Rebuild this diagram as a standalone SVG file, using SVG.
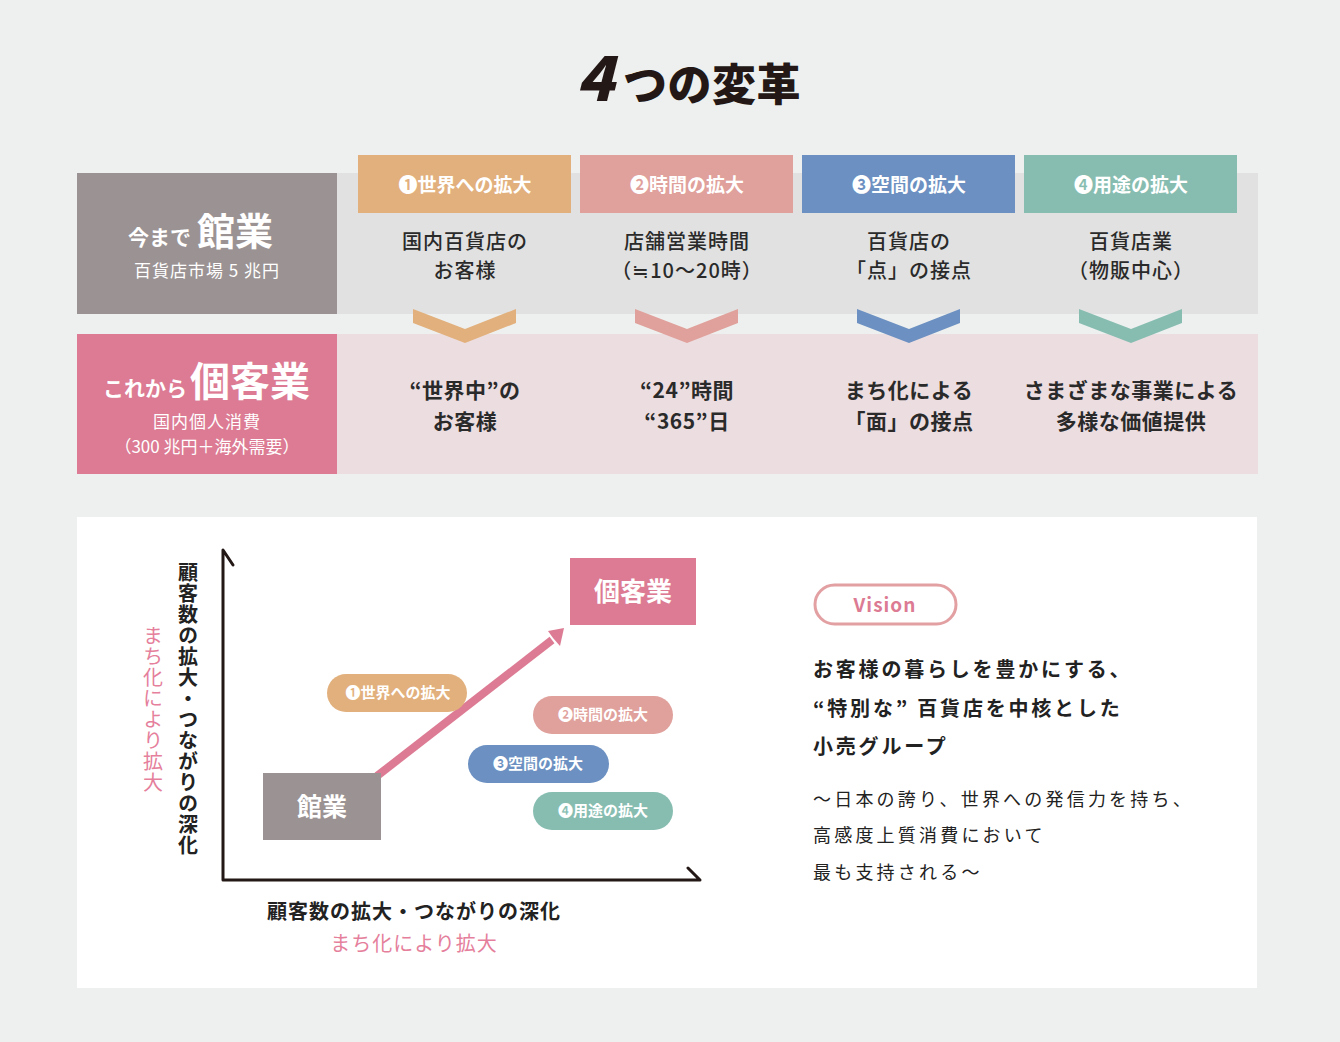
<svg xmlns="http://www.w3.org/2000/svg" width="1340" height="1042" viewBox="0 0 1340 1042">
<defs>
<style>
text{font-family:"Noto Sans CJK JP","Noto Sans",sans-serif;}
.dark{fill:#222;}
.w{fill:#fff;}
.tab{font-size:19px;font-weight:700;fill:#fff;text-anchor:middle;}
.row1{font-size:20px;font-weight:500;fill:#2a2a2a;text-anchor:middle;letter-spacing:1px;}
.row2{font-size:21px;font-weight:700;fill:#2a2a2a;text-anchor:middle;letter-spacing:0.5px;}
.pill{font-size:15px;font-weight:700;fill:#fff;text-anchor:middle;}
.axis{fill:none;stroke:#231815;stroke-width:3;stroke-linecap:round;stroke-linejoin:round;}
.orange{fill:#e2b07c;}
.rose{fill:#e0a09b;}
.blue{fill:#6b90c1;}
.teal{fill:#87bdb1;}
.pink{fill:#dc7b93;}
</style>
</defs>
<rect x="0" y="0" width="1340" height="1042" fill="#eef0ef"/>

<g id="title">
<text x="576" y="101" font-size="62" font-weight="900" font-style="italic" fill="#231815" font-family="'Liberation Sans',sans-serif">4</text>
<text x="623" y="101" font-size="44" font-weight="900" fill="#231815" letter-spacing="0.5">つの変革</text>
</g>

<g id="row-now">
<rect x="337" y="173" width="921" height="141" fill="#e1e1e1"/>
<rect x="77" y="173" width="260" height="141" fill="#9b9393"/>
<text x="128" y="245" font-size="21" font-weight="700" class="w">今まで</text>
<text x="197" y="245" font-size="38" font-weight="700" class="w">館業</text>
<text x="207" y="277" font-size="17" class="w" text-anchor="middle" letter-spacing="1">百貨店市場 5 兆円</text>
</g>

<g id="row-future">
<rect x="337" y="334" width="921" height="140" fill="#ecdde0"/>
<rect x="77" y="334" width="260" height="140" fill="#dc7b93"/>
<text x="103" y="396" font-size="21" font-weight="700" class="w">これから</text>
<text x="190" y="396" font-size="40" font-weight="700" class="w">個客業</text>
<text x="207" y="428" font-size="17" class="w" text-anchor="middle" letter-spacing="1">国内個人消費</text>
<text x="207" y="453" font-size="17" class="w" text-anchor="middle">（300 兆円＋海外需要）</text>
</g>

<g id="col1">
<rect x="358" y="155" width="213" height="58" class="orange"/>
<text x="465" y="192" class="tab">❶世界への拡大</text>
<text x="465" y="249" class="row1">国内百貨店の</text>
<text x="465" y="278" class="row1">お客様</text>
<polygon points="413,309 465,329 516,309 516,323 465,343 413,323" class="orange"/>
<text x="465" y="398" class="row2">“世界中”の</text>
<text x="465" y="429" class="row2">お客様</text>
</g>

<g id="col2">
<rect x="580" y="155" width="213" height="58" class="rose"/>
<text x="687" y="192" class="tab">❷時間の拡大</text>
<text x="687" y="249" class="row1">店舗営業時間</text>
<text x="687" y="278" class="row1" letter-spacing="0">（≒10～20時）</text>
<polygon points="635,309 687,329 738,309 738,323 687,343 635,323" class="rose"/>
<text x="687" y="398" class="row2">“24”時間</text>
<text x="687" y="429" class="row2">“365”日</text>
</g>

<g id="col3">
<rect x="802" y="155" width="213" height="58" class="blue"/>
<text x="909" y="192" class="tab">❸空間の拡大</text>
<text x="909" y="249" class="row1">百貨店の</text>
<text x="909" y="278" class="row1" letter-spacing="0">「点」の接点</text>
<polygon points="857,309 909,329 960,309 960,323 909,343 857,323" class="blue"/>
<text x="909" y="398" class="row2">まち化による</text>
<text x="909" y="429" class="row2" letter-spacing="0">「面」の接点</text>
</g>

<g id="col4">
<rect x="1024" y="155" width="213" height="58" class="teal"/>
<text x="1131" y="192" class="tab">❹用途の拡大</text>
<text x="1131" y="249" class="row1">百貨店業</text>
<text x="1131" y="278" class="row1">（物販中心）</text>
<polygon points="1079,309 1131,329 1182,309 1182,323 1131,343 1079,323" class="teal"/>
<text x="1131" y="398" class="row2">さまざまな事業による</text>
<text x="1131" y="429" class="row2">多様な価値提供</text>
</g>

<rect x="77" y="517" width="1180" height="471" fill="#ffffff"/>

<g id="connectors">
<polyline points="233,565 223,550 223,880 700,880 688,868" class="axis"/>
<line x1="377" y1="776" x2="552" y2="640" stroke="#dc7b93" stroke-width="8"/>
<polygon points="564,628 548,631 553,638 560,646" fill="#dc7b93"/>
</g>

<g id="y-labels">
<text x="188" y="562" font-size="20" font-weight="700" class="dark" writing-mode="vertical-rl" letter-spacing="1">顧客数の拡大・つながりの深化</text>
<text x="153" y="625" font-size="20" fill="#e57f9c" writing-mode="vertical-rl" letter-spacing="1">まち化により拡大</text>
</g>

<g id="x-labels">
<text x="414" y="919" font-size="20" font-weight="700" class="dark" text-anchor="middle" letter-spacing="1">顧客数の拡大・つながりの深化</text>
<text x="414" y="951" font-size="20" fill="#e57f9c" text-anchor="middle" letter-spacing="1">まち化により拡大</text>
</g>

<g id="node-kangyo">
<rect x="263" y="773" width="118" height="67" fill="#9b9393"/>
<text x="322" y="816" font-size="25" font-weight="700" class="w" text-anchor="middle">館業</text>
</g>

<g id="node-kokyakugyo">
<rect x="570" y="558" width="126" height="67" class="pink"/>
<text x="633" y="601" font-size="26" font-weight="700" class="w" text-anchor="middle">個客業</text>
</g>

<g id="pill1">
<rect x="327" y="674" width="140" height="38" rx="19" class="orange"/>
<text x="398" y="698" class="pill">❶世界への拡大</text>
</g>
<g id="pill2">
<rect x="533" y="696" width="140" height="38" rx="19" class="rose"/>
<text x="603" y="720" class="pill">❷時間の拡大</text>
</g>
<g id="pill3">
<rect x="468" y="745" width="141" height="38" rx="19" class="blue"/>
<text x="538" y="769" class="pill">❸空間の拡大</text>
</g>
<g id="pill4">
<rect x="533" y="792" width="140" height="38" rx="19" class="teal"/>
<text x="603" y="816" class="pill">❹用途の拡大</text>
</g>

<g id="vision">
<rect x="815" y="585" width="141" height="39" rx="19.5" fill="#fff" stroke="#e3a0a3" stroke-width="3"/>
<text x="885" y="612" font-size="19" font-weight="700" fill="#dc7b93" text-anchor="middle" letter-spacing="1">Vision</text>
<text x="813" y="677" font-size="20" font-weight="700" class="dark" letter-spacing="2.8">お客様の暮らしを豊かにする、</text>
<text x="813" y="716" font-size="20" font-weight="700" class="dark" letter-spacing="2.8">“特別な” 百貨店を中核とした</text>
<text x="813" y="754" font-size="20" font-weight="700" class="dark" letter-spacing="2.8">小売グループ</text>
<text x="813" y="806" font-size="18" class="dark" letter-spacing="3.2">～日本の誇り、世界への発信力を持ち、</text>
<text x="813" y="842" font-size="18" class="dark" letter-spacing="3.2">高感度上質消費において</text>
<text x="813" y="879" font-size="18" class="dark" letter-spacing="3.2">最も支持される～</text>
</g>
</svg>
